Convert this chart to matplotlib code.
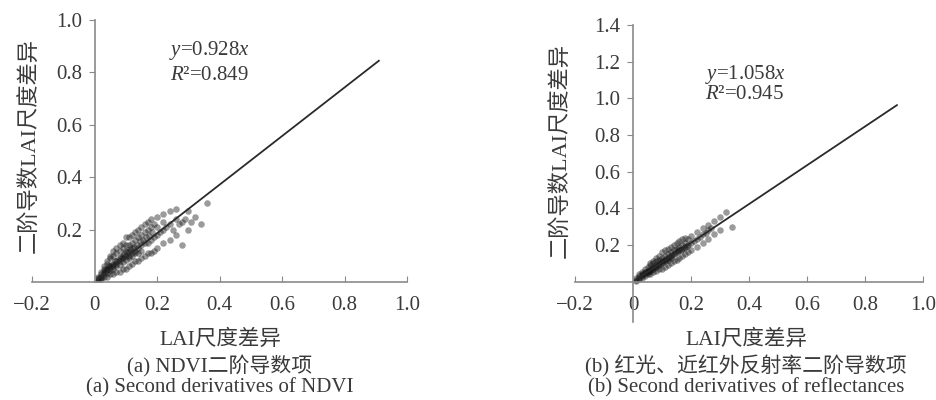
import matplotlib
matplotlib.use('Agg')
import matplotlib.pyplot as plt

plt.rcParams['font.family'] = ['Liberation Serif', 'Noto Sans CJK SC']
plt.rcParams['mathtext.fontset'] = 'custom'
plt.rcParams['mathtext.rm'] = 'Liberation Serif'
plt.rcParams['mathtext.it'] = 'Liberation Serif:italic'

# (a) NDVI 二阶导数项：LAI尺度差异 vs 二阶导数LAI尺度差异（从图上估读的点）
ndvi_x = [0.01, 0.01, 0.01, 0.01,
          0.02, 0.02, 0.02, 0.02, 0.02,
          0.03, 0.03, 0.03, 0.03, 0.03,
          0.04, 0.04, 0.04, 0.04, 0.04, 0.04,
          0.05, 0.05, 0.05, 0.05, 0.05, 0.05,
          0.06, 0.06, 0.06, 0.06, 0.06, 0.06,
          0.07, 0.07, 0.07, 0.07, 0.07, 0.07,
          0.08, 0.08, 0.08, 0.08, 0.08, 0.08,
          0.09, 0.09, 0.09, 0.09, 0.09, 0.09,
          0.10, 0.10, 0.10, 0.10, 0.10, 0.10,
          0.11, 0.11, 0.11, 0.11, 0.11, 0.11,
          0.12, 0.12, 0.12, 0.12, 0.12, 0.12,
          0.13, 0.13, 0.13, 0.13, 0.13,
          0.14, 0.14, 0.14, 0.14, 0.14,
          0.15, 0.15, 0.15, 0.15, 0.15,
          0.16, 0.16, 0.16, 0.16,
          0.17, 0.17, 0.17, 0.17,
          0.18, 0.18, 0.18, 0.18,
          0.19, 0.19, 0.19,
          0.20, 0.20, 0.20, 0.20,
          0.22, 0.22, 0.22, 0.22,
          0.24, 0.24, 0.24,
          0.26, 0.26, 0.26,
          0.28, 0.28,
          0.30, 0.30,
          0.32, 0.34, 0.36,
          0.035, 0.055, 0.075, 0.095, 0.115, 0.135, 0.155, 0.175,
          0.045, 0.065, 0.085, 0.105, 0.125, 0.145, 0.165, 0.185,
          0.21, 0.23, 0.25, 0.27, 0.29, 0.31]
ndvi_y = [0.005, 0.015, 0.02, 0.01,
          0.01, 0.03, 0.04, 0.02, 0.015,
          0.02, 0.04, 0.06, 0.03, 0.05,
          0.02, 0.05, 0.07, 0.035, 0.08, 0.045,
          0.03, 0.06, 0.09, 0.045, 0.10, 0.055,
          0.03, 0.06, 0.10, 0.07, 0.12, 0.05,
          0.04, 0.07, 0.11, 0.08, 0.13, 0.06,
          0.04, 0.08, 0.12, 0.09, 0.14, 0.065,
          0.05, 0.09, 0.13, 0.10, 0.15, 0.075,
          0.05, 0.10, 0.14, 0.085, 0.17, 0.12,
          0.06, 0.10, 0.14, 0.09, 0.17, 0.12,
          0.07, 0.11, 0.15, 0.10, 0.18, 0.13,
          0.08, 0.12, 0.16, 0.11, 0.19,
          0.08, 0.13, 0.17, 0.11, 0.20,
          0.09, 0.14, 0.18, 0.12, 0.21,
          0.10, 0.15, 0.19, 0.22,
          0.11, 0.15, 0.20, 0.23,
          0.11, 0.16, 0.21, 0.24,
          0.12, 0.17, 0.22,
          0.13, 0.18, 0.25, 0.21,
          0.15, 0.20, 0.26, 0.23,
          0.16, 0.22, 0.27,
          0.18, 0.24, 0.28,
          0.14, 0.23,
          0.20, 0.27,
          0.25, 0.22, 0.30,
          0.045, 0.065, 0.085, 0.105, 0.125, 0.14, 0.16, 0.175,
          0.06, 0.08, 0.095, 0.115, 0.135, 0.155, 0.17, 0.19,
          0.19, 0.21, 0.2, 0.22, 0.24, 0.23]

# (b) 红光、近红外反射率二阶导数项
refl_x = [0.01, 0.01, 0.01,
          0.02, 0.02, 0.02, 0.02,
          0.03, 0.03, 0.03, 0.03,
          0.04, 0.04, 0.04, 0.04,
          0.05, 0.05, 0.05, 0.05,
          0.06, 0.06, 0.06, 0.06, 0.06,
          0.07, 0.07, 0.07, 0.07, 0.07,
          0.08, 0.08, 0.08, 0.08, 0.08,
          0.09, 0.09, 0.09, 0.09, 0.09,
          0.10, 0.10, 0.10, 0.10, 0.10,
          0.11, 0.11, 0.11, 0.11, 0.11,
          0.12, 0.12, 0.12, 0.12, 0.12,
          0.13, 0.13, 0.13, 0.13, 0.13,
          0.14, 0.14, 0.14, 0.14,
          0.15, 0.15, 0.15, 0.15,
          0.16, 0.16, 0.16, 0.16,
          0.17, 0.17, 0.17, 0.17,
          0.18, 0.18, 0.18, 0.18,
          0.19, 0.19, 0.19,
          0.20, 0.20, 0.20,
          0.22, 0.22, 0.22,
          0.24, 0.24, 0.24,
          0.26, 0.26, 0.26,
          0.28, 0.28,
          0.30, 0.30,
          0.32, 0.34,
          0.035, 0.055, 0.075, 0.095, 0.115, 0.135, 0.155, 0.175,
          0.045, 0.065, 0.085, 0.105, 0.125, 0.145, 0.165, 0.185,
          0.21, 0.23, 0.25, 0.27]
refl_y = [0.01, 0.02, 0.005,
          0.015, 0.03, 0.04, 0.02,
          0.02, 0.04, 0.05, 0.03,
          0.03, 0.05, 0.07, 0.04,
          0.04, 0.06, 0.08, 0.05,
          0.04, 0.07, 0.09, 0.06, 0.10,
          0.05, 0.08, 0.10, 0.07, 0.11,
          0.06, 0.09, 0.11, 0.08, 0.13,
          0.07, 0.10, 0.12, 0.09, 0.14,
          0.07, 0.11, 0.13, 0.10, 0.16,
          0.08, 0.12, 0.14, 0.11, 0.17,
          0.09, 0.13, 0.15, 0.12, 0.18,
          0.10, 0.14, 0.16, 0.13, 0.19,
          0.11, 0.15, 0.17, 0.20,
          0.12, 0.16, 0.18, 0.21,
          0.13, 0.17, 0.19, 0.22,
          0.14, 0.18, 0.20, 0.23,
          0.15, 0.19, 0.21, 0.24,
          0.16, 0.20, 0.23,
          0.17, 0.21, 0.25,
          0.19, 0.23, 0.27,
          0.21, 0.26, 0.29,
          0.23, 0.28, 0.31,
          0.26, 0.33,
          0.28, 0.35,
          0.38, 0.30,
          0.04, 0.06, 0.08, 0.10, 0.125, 0.145, 0.165, 0.185,
          0.05, 0.07, 0.09, 0.115, 0.135, 0.155, 0.175, 0.195,
          0.22, 0.245, 0.265, 0.29]

slopes = [0.928, 1.058]
r2 = [0.849, 0.945]
line_x = [0, 0.91]

x_ticks = [-0.2, 0, 0.2, 0.4, 0.6, 0.8, 1.0]
x_labels = ['\u22120.2', '0', '0.2', '0.4', '0.6', '0.8', '1.0']
y_ticks_a = [0.2, 0.4, 0.6, 0.8, 1.0]
y_ticks_b = [0.2, 0.4, 0.6, 0.8, 1.0, 1.2, 1.4]

W, H = 936, 400
fig = plt.figure(figsize=(9.36, 4.0), dpi=100)

ax1 = fig.add_axes([32 / W, (H - 282) / H, 375 / W, 262 / H])
ax2 = fig.add_axes([575 / W, (H - 322) / H, 348 / W, 297 / H])

axcol = '#8a8a8a'
txtcol = '#3a3a3a'

setup = [(ax1, ndvi_x, ndvi_y, (0, 1.0), y_ticks_a),
         (ax2, refl_x, refl_y, (-0.22, 1.4), y_ticks_b)]

for i, (ax, xs, ys, ylim, yt) in enumerate(setup):
    ax.scatter(xs, ys, s=22, color='#111111', alpha=0.42, linewidths=0)
    ax.plot(line_x, [slopes[i] * v for v in line_x], color='#2a2a2a', lw=1.3)
    ax.set_xlim(-0.2, 1.0)
    ax.set_ylim(*ylim)
    ax.spines['top'].set_visible(False)
    ax.spines['right'].set_visible(False)
    ax.spines['left'].set_position(('data', 0))
    ax.spines['bottom'].set_position(('data', 0))
    for sp in ('left', 'bottom'):
        ax.spines[sp].set_color(axcol)
        ax.spines[sp].set_linewidth(1.2)
    ax.set_xticks(x_ticks)
    ax.set_xticklabels(x_labels)
    ax.set_yticks(yt)
    ax.set_yticklabels(['%.1f' % v for v in yt])
    ax.tick_params(axis='x', direction='in', length=4, pad=10, color=axcol,
                   labelsize=15, labelcolor=txtcol)
    ax.tick_params(axis='y', direction='out', length=4, pad=5, color=axcol,
                   labelsize=15, labelcolor=txtcol)
    ax.patch.set_alpha(0)

ax1.text(0.368, 0.885, r'$y$=0.928$x$', fontsize=15, color=txtcol,
         ha='center', va='center')
ax1.text(0.368, 0.79, r'$R$²=0.849', fontsize=15, color=txtcol,
         ha='center', va='center')
ax2.text(0.386, 1.13, r'$y$=1.058$x$', fontsize=15, color=txtcol,
         ha='center', va='center')
ax2.text(0.386, 1.02, r'$R$²=0.945', fontsize=15, color=txtcol,
         ha='center', va='center')

fig.text(30 / W, 1 - 145 / H, '二阶导数LAI尺度差异', rotation=90, fontsize=16,
         color=txtcol, ha='center', va='center')
fig.text(561 / W, 1 - 150 / H, '二阶导数LAI尺度差异', rotation=90, fontsize=16,
         color=txtcol, ha='center', va='center')

caps = [(220, ['LAI尺度差异', '(a) NDVI二阶导数项', '(a) Second derivatives of NDVI']),
        (746, ['LAI尺度差异', '(b) 红光、近红外反射率二阶导数项',
               '(b) Second derivatives of reflectances'])]
for cx, lines in caps:
    for ly, s in zip([340, 366, 388], lines):
        fig.text(cx / W, 1 - ly / H, s, fontsize=15 if ly > 340 else 15.5,
                 color=txtcol, ha='center', va='center')

fig.savefig('out.png', dpi=100, facecolor='white')
